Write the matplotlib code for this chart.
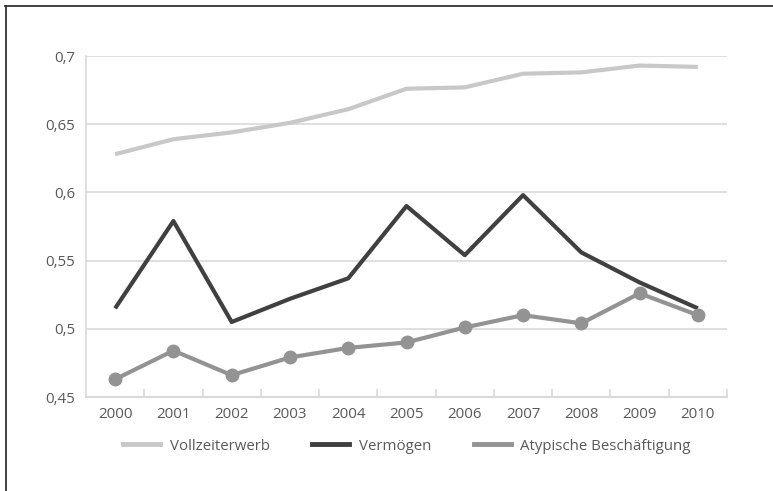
import matplotlib
matplotlib.use('Agg')
import matplotlib.pyplot as plt
from matplotlib.lines import Line2D
from matplotlib.ticker import FuncFormatter

plt.rcParams['font.family'] = ['Open Sans', 'DejaVu Sans']

# Daten
jahre = ['2000', '2001', '2002', '2003', '2004', '2005',
         '2006', '2007', '2008', '2009', '2010']
vollzeit = [0.628, 0.639, 0.644, 0.651, 0.661, 0.676,
            0.677, 0.687, 0.688, 0.693, 0.692]
vermoegen = [0.515, 0.579, 0.505, 0.522, 0.537, 0.590,
             0.554, 0.598, 0.556, 0.534, 0.515]
atypisch = [0.463, 0.484, 0.466, 0.479, 0.486, 0.490,
            0.501, 0.510, 0.504, 0.526, 0.510]
namen = ['Vollzeiterwerb', 'Vermögen', 'Atypische Beschäftigung']
farben = ['#c8c8c8', '#404040', '#939393']
y_ticks = [0.45, 0.5, 0.55, 0.6, 0.65, 0.7]

TEXT = '#595959'
GRID = '#d9d9d9'
FS = 10.8

fig = plt.figure(figsize=(7.73, 4.91), dpi=100)
ax = fig.add_axes([86 / 773, 1 - 397 / 491, (727 - 86) / 773, (397 - 56) / 491])

x = list(range(len(jahre)))
ax.plot(x, vollzeit, color=farben[0], lw=3, solid_capstyle='butt', zorder=3)
ax.plot(x, vermoegen, color=farben[1], lw=3, solid_capstyle='butt', zorder=3)
ax.plot(x, atypisch, color=farben[2], lw=3, marker='o', markersize=9,
        solid_capstyle='butt', zorder=3)

ax.set_xlim(-0.5, len(jahre) - 0.5)
ax.set_ylim(0.45, 0.7)
ax.set_yticks(y_ticks)
ax.yaxis.set_major_formatter(FuncFormatter(lambda v, p: f'{v:g}'.replace('.', ',')))
ax.set_xticks(x)
ax.set_xticklabels(jahre)
ax.set_xticks([i + 0.5 for i in x], minor=True)

ax.grid(axis='y', color=GRID, lw=1.2, zorder=0)
for s in ['top', 'right']:
    ax.spines[s].set_visible(False)
ax.spines['left'].set_color(GRID)
ax.spines['bottom'].set_color(GRID)
ax.spines['left'].set_linewidth(1.2)
ax.spines['bottom'].set_linewidth(1.5)

ax.tick_params(axis='y', length=0, pad=8, labelsize=FS, labelcolor=TEXT)
ax.tick_params(axis='x', which='major', length=0, pad=7, labelsize=FS, labelcolor=TEXT)
ax.tick_params(axis='x', which='minor', direction='in', length=6, width=1.2, color=GRID)

handles = [Line2D([0], [0], color=c, lw=3.5) for c in farben]
leg = fig.legend(handles, namen, loc='center', bbox_to_anchor=(407 / 773, 1 - 446 / 491),
                 ncol=3, frameon=False, fontsize=FS, handlelength=2.45,
                 columnspacing=2.85, handletextpad=0.65)
for t in leg.get_texts():
    t.set_color(TEXT)

# Rahmen oben und links
fig.add_artist(Line2D([5.5 / 773, 5.5 / 773], [0, 1 - 6 / 491],
                      transform=fig.transFigure, color='#333333', lw=1.3))
fig.add_artist(Line2D([5 / 773, 1], [1 - 6 / 491, 1 - 6 / 491],
                      transform=fig.transFigure, color='#333333', lw=1.3))

fig.savefig('out.png', dpi=100)
